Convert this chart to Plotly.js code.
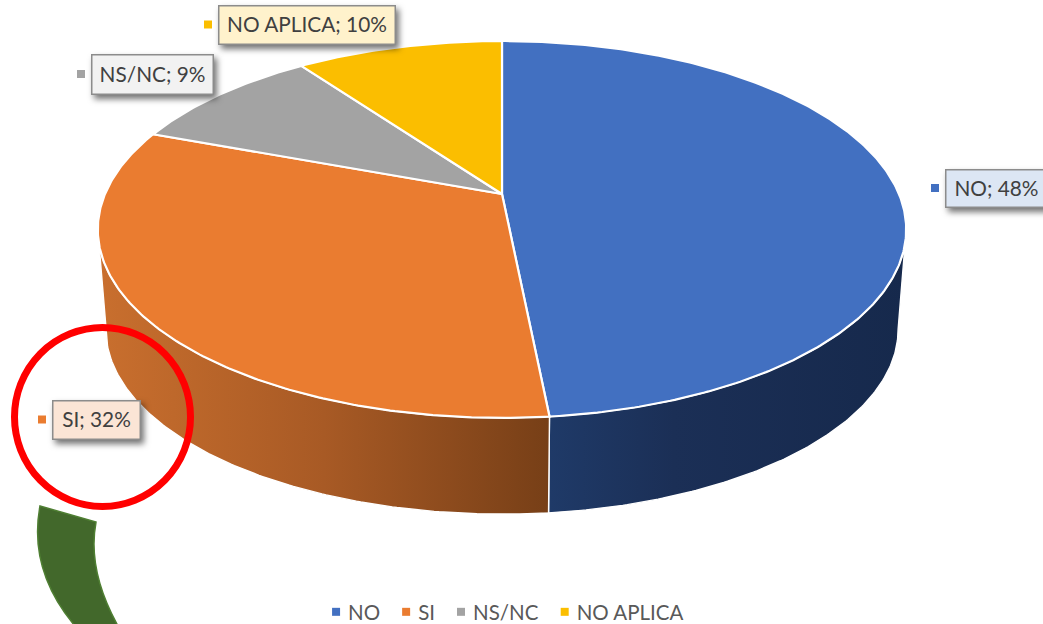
<!DOCTYPE html>
<html><head><meta charset="utf-8">
<script src="https://cdn.plot.ly/plotly-3.0.1.min.js"></script>
<style>
html,body{margin:0;padding:0;background:#fff;overflow:hidden}
#chart{width:1043px;height:624px}
.annotation rect.bg{filter:drop-shadow(3px 4px 3px rgba(0,0,0,.55))}
.annotation-text-g text{transform:translateY(-1.5px)}
</style></head><body><div id="chart"></div>
<script>
const categories=["NO","SI","NS/NC","NO APLICA"];
const shares=[48.45,32.25,9.4,9.9];
const sliceColors=["#4270C1","#EA7C30","#A3A3A3","#FBBE00"];
const labelFills=["#DCE6F4","#FBE5D6","#F2F2F2","#FFF2CC"];
const wallScales=[
  [[0,"#1F3A68"],[0.35,"#1B2F56"],[1,"#16294C"]],
  [[0,"#C96F2E"],[0.5,"#A85A25"],[1,"#773F17"]]
];
const labelBoxes=[[946,170,100,36],[53,401,86,37],[92,55,120,38],[219,6,175,37]];

// perspective view of the pie disc
const apex={x:502,y:194},A=397,B=181.8,k=0.188;
const wall={dy:100,scale:0.98,cy:229};
function topRim(t){const u=Math.sin(t),v=Math.cos(t),d=1+k*v;
  return [apex.x+A*u/d,apex.y-B*v/d];}
function bottomRim(t){const p=topRim(t);
  return [apex.x+wall.scale*(p[0]-apex.x),wall.cy+wall.dy+wall.scale*(p[1]-wall.cy)];}
function arc(fn,a,b){const out=[],n=Math.max(2,Math.ceil(Math.abs(b-a)/0.01));
  for(let i=0;i<=n;i++)out.push(fn(a+(b-a)*i/n));return out;}

const total=shares.reduce((s,v)=>s+v,0);
let acc=0;const edges=[0];
shares.forEach(v=>{acc+=v;edges.push(acc/total*2*Math.PI);});

const traces=[];
// side walls: only the visible front part of the rim
const sil=Math.acos(-k);
const wallSpans=[[sil,edges[1]],[edges[1],2*Math.PI-sil]];
wallSpans.forEach((s,i)=>{
  const pts=arc(topRim,s[0],s[1]).concat(arc(bottomRim,s[1],s[0]));
  pts.push(pts[0]);
  traces.push({type:"scatter",mode:"lines",x:pts.map(p=>p[0]),y:pts.map(p=>p[1]),
    fill:"toself",fillgradient:{type:"horizontal",colorscale:wallScales[i]},
    line:{color:"#fff",width:1.4},hoverinfo:"skip",showlegend:false});
});
// top faces
categories.forEach((c,i)=>{
  const pts=[[apex.x,apex.y]].concat(arc(topRim,edges[i],edges[i+1]));
  pts.push([apex.x,apex.y]);
  traces.push({type:"scatter",mode:"lines",x:pts.map(p=>p[0]),y:pts.map(p=>p[1]),
    fill:"toself",fillcolor:sliceColors[i],line:{color:"#fff",width:2.2},
    name:c,hoverinfo:"name",showlegend:false});
});
// legend keys
categories.forEach((c,i)=>traces.push({type:"scatter",mode:"markers",x:[null],y:[null],name:c,
  marker:{symbol:"square",size:8,color:sliceColors[i]},showlegend:true}));

const FONT="Lato, 'Open Sans', sans-serif";
const annotations=categories.map((c,i)=>{const b=labelBoxes[i];return{
  x:b[0]+b[2]/2,y:b[1]+b[3]/2,xref:"x",yref:"y",xanchor:"center",yanchor:"middle",
  width:b[2],height:b[3],showarrow:false,align:"center",
  text:c+"; "+Math.round(shares[i])+"%",font:{family:FONT,size:20.8,color:"#404040"},
  bgcolor:labelFills[i],bordercolor:"#8C8C8C",borderwidth:1.5,borderpad:0};});
const shapes=categories.map((c,i)=>{const b=labelBoxes[i];const cy=b[1]+b[3]/2;return{
  type:"rect",xref:"x",yref:"y",x0:b[0]-15,x1:b[0]-7,y0:cy-4,y1:cy+4,
  fillcolor:sliceColors[i],line:{width:0}};});
shapes.push({type:"circle",xref:"x",yref:"y",x0:14.5,x1:190.5,y0:327.5,y1:506.5,
  line:{color:"#FF0000",width:7},fillcolor:"rgba(0,0,0,0)"});
shapes.push({type:"path",xref:"x",yref:"y",
  path:"M40,506 L96,522 Q87,570 118,626 L75,626 Q28,570 40,506 Z",
  fillcolor:"#42682B",line:{color:"#4F7F33",width:1.5}});

Plotly.newPlot("chart",traces,{
  width:1043,height:624,margin:{l:0,r:0,t:0,b:0},
  paper_bgcolor:"#fff",plot_bgcolor:"#fff",
  xaxis:{range:[0,1043],visible:false,fixedrange:true},
  yaxis:{range:[624,0],visible:false,fixedrange:true},
  showlegend:true,
  legend:{orientation:"h",x:0.49,xanchor:"center",y:0,yanchor:"bottom",
    font:{family:FONT,size:20.5,color:"#595959"},bgcolor:"rgba(0,0,0,0)",itemwidth:30},
  annotations,shapes
},{displayModeBar:false,staticPlot:true}).then(()=>{
  // tighten legend key/text spacing to match the original
  const tighten=7, down=8, right=6;
  document.querySelectorAll(".legend .traces").forEach((g,i)=>{
    const m=/translate\(\s*([-\d.]+)[ ,]+([-\d.]+)\s*\)/.exec(g.getAttribute("transform"));
    if(m) g.setAttribute("transform","translate("+(parseFloat(m[1])-tighten*i)+","+m[2]+")");
    const t=g.querySelector(".legendtext");
    if(t) t.setAttribute("x",parseFloat(t.getAttribute("x"))-8);
  });
  const lg=document.querySelector(".legend");
  const m=/translate\(\s*([-\d.]+)[ ,]+([-\d.]+)\s*\)/.exec(lg.getAttribute("transform"));
  if(m) lg.setAttribute("transform","translate("+(parseFloat(m[1])+right)+","+(parseFloat(m[2])+down)+")");
});
</script></body></html>
